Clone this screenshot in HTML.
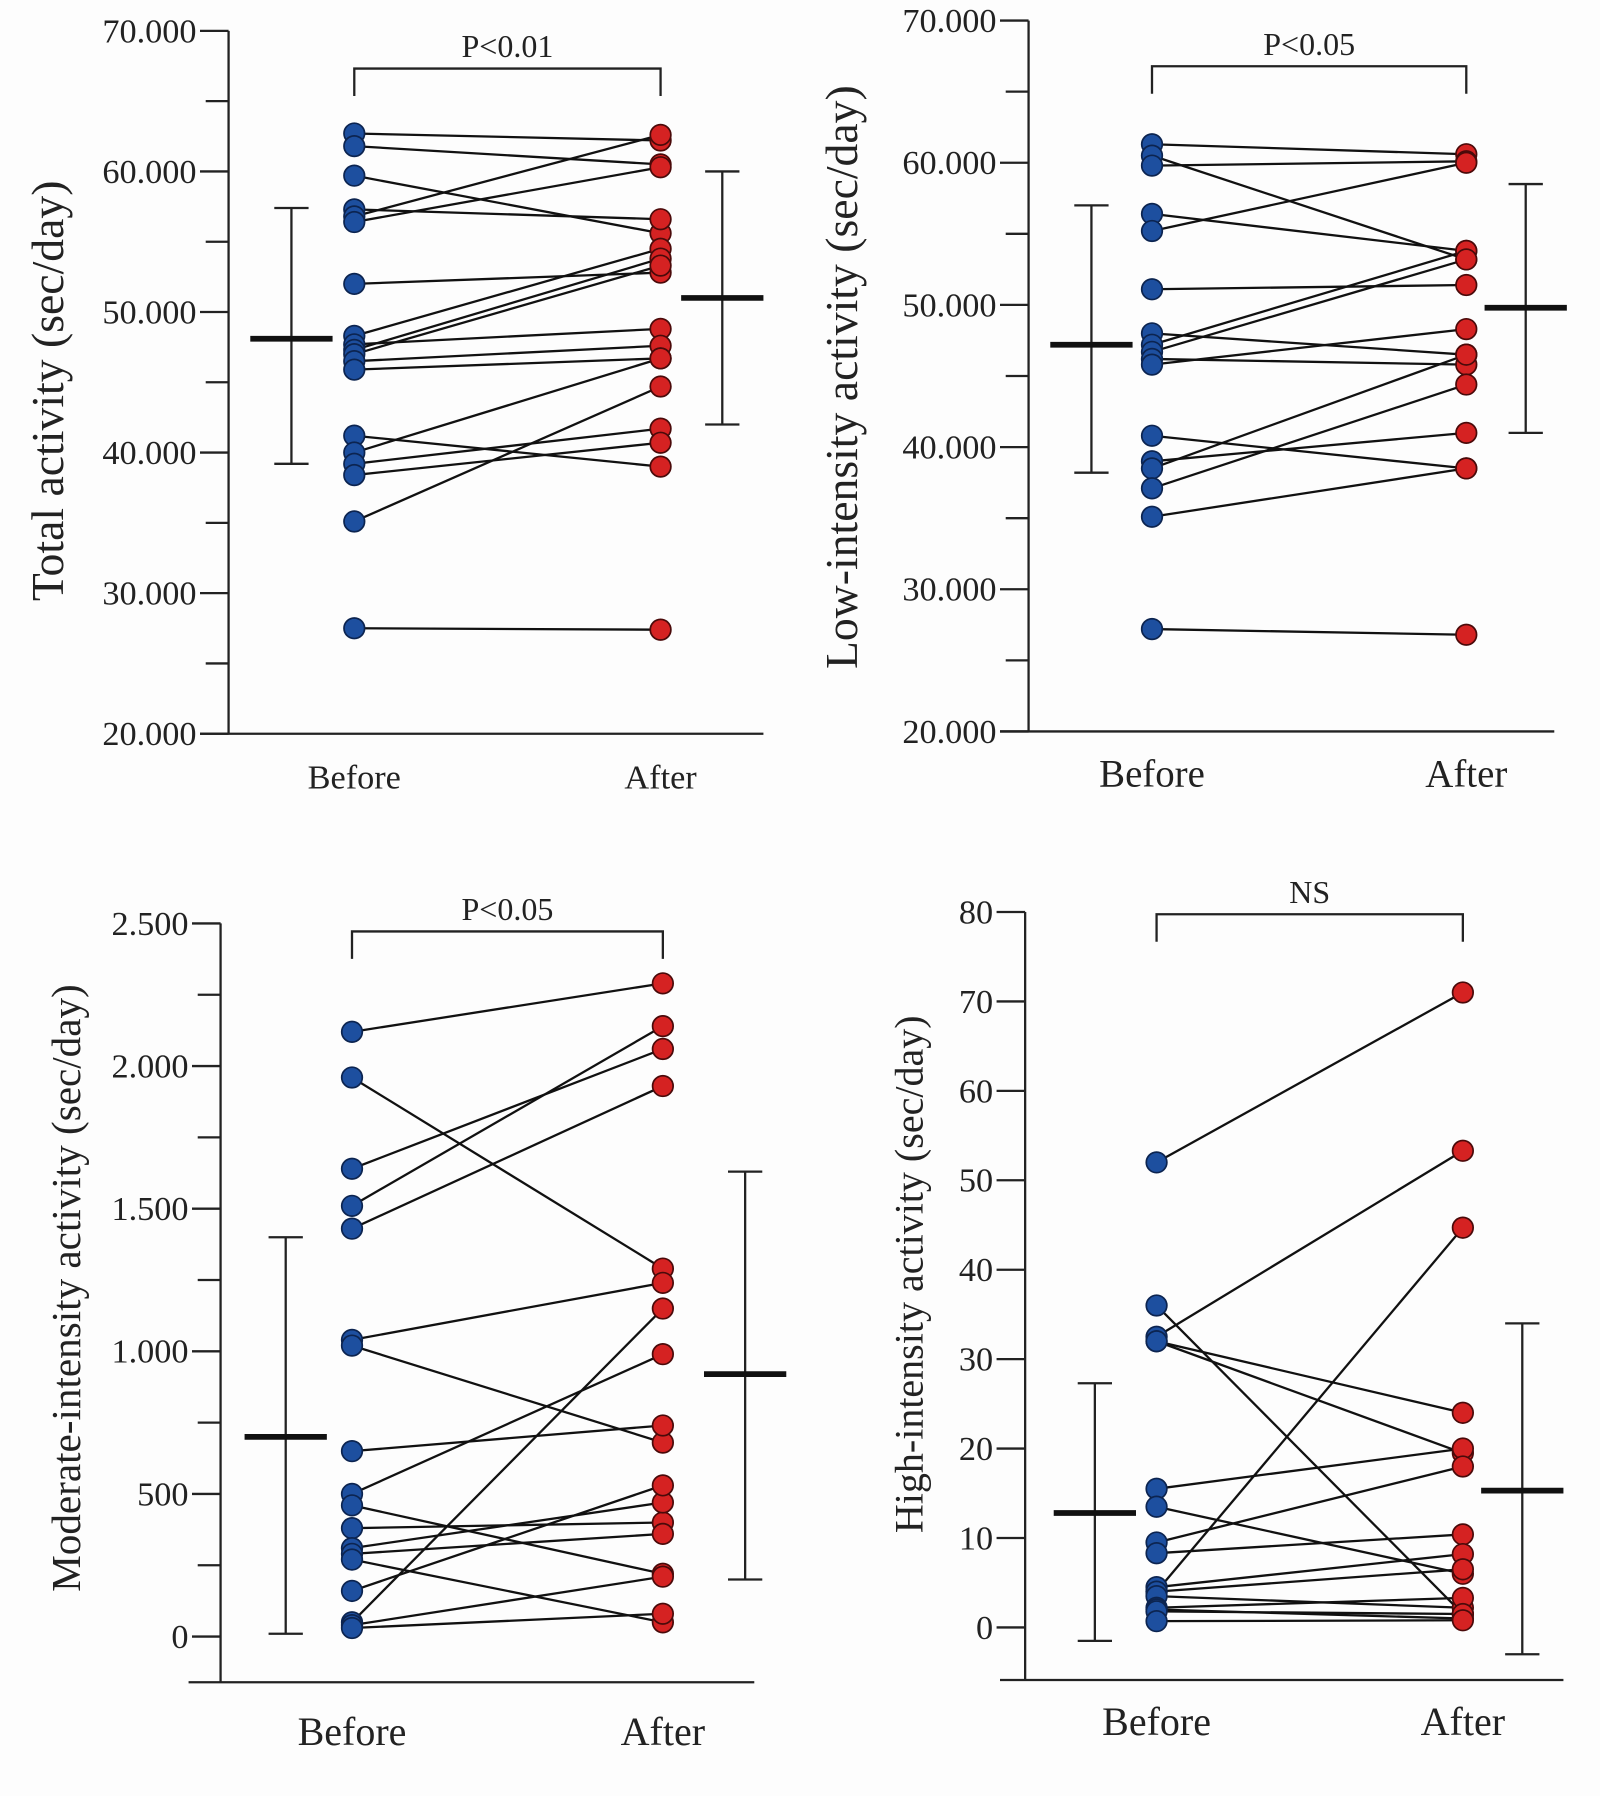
<!DOCTYPE html>
<html><head><meta charset="utf-8"><style>
html,body{margin:0;padding:0;background:#fdfdfd;}
svg{display:block;font-family:"Liberation Serif",serif;}
</style></head><body>
<svg id="fig" width="1600" height="1796" viewBox="0 0 1400 1571.5"></svg>
<script>
// Panel A: total activity
const aBefore=[62700,61800,59700,57300,56800,56400,52000,48300,47700,47300,47000,46500,45900,41200,40000,39200,38400,35100,27500];
const aAfter =[62200,60500,55600,56600,62600,60300,52800,54500,48800,53800,53300,47600,46700,39000,46700,41700,40700,44700,27400];
const aTicks=[20000,30000,40000,50000,60000,70000];
const aTickLabels=["20.000","30.000","40.000","50.000","60.000","70.000"];
const aStats=[[48100,39200,57400],[51000,42000,60000]];
// Panel B: low-intensity activity
const bBefore=[61300,60500,59800,56400,55200,51100,48000,47200,46700,46200,45800,40800,39000,38500,37100,35100,27200];
const bAfter =[60600,53200,60100,53800,60000,51400,46500,53800,53200,45800,48300,38500,41000,46500,44400,38500,26800];
const bTicks=[20000,30000,40000,50000,60000,70000];
const bTickLabels=["20.000","30.000","40.000","50.000","60.000","70.000"];
const bStats=[[47200,38200,57000],[49800,41000,58500]];
// Panel C: moderate-intensity activity
const cBefore=[2120,1960,1640,1510,1430,1040,1020,650,500,460,380,310,290,270,160,50,40,30];
const cAfter =[2290,1290,2060,2140,1930,1240,680,740,990,220,400,470,360,50,530,1150,210,80];
const cTicks=[0,500,1000,1500,2000,2500];
const cTickLabels=["0","500","1.000","1.500","2.000","2.500"];
const cStats=[[700,10,1400],[920,200,1630]];
// Panel D: high-intensity activity
const dBefore=[52,32.5,4,36,32,32,15.5,13.5,9.5,8.3,4.5,4,3.5,2.2,2,1.8,0.7];
const dAfter =[71,53.3,44.7,1.5,24,19.5,20,6,18,10.4,8.2,6.5,2.2,3.3,1,1.5,0.8];
const dTicks=[0,10,20,30,40,50,60,70,80];
const dTickLabels=["0","10","20","30","40","50","60","70","80"];
const dStats=[[12.8,-1.5,27.3],[15.3,-3,34]];

const NS="http://www.w3.org/2000/svg";
const svg=document.getElementById('fig');
function mk(tag,attrs,parent){const e=document.createElementNS(NS,tag);for(const k in attrs)e.setAttribute(k,attrs[k]);(parent||svg).appendChild(e);return e;}

function panel(cfg){
  const g=mk('g',{});
  
  
  const y=v=>cfg.y0+(v-cfg.v0)/(cfg.v1-cfg.v0)*(cfg.y1-cfg.y0);
  const ya=mk('line',{x1:cfg.ax,x2:cfg.ax,y1:y(cfg.v1),y2:cfg.baseY,stroke:'#222','stroke-width':2},g);
  
  const xa=mk('line',{x1:cfg.bx0,x2:cfg.bx1,y1:cfg.baseY,y2:cfg.baseY,stroke:'#222','stroke-width':2},g);
  
  cfg.ticks.forEach((t,i)=>{
    const ty=y(t);
    const l=mk('line',{x1:cfg.ax-25,x2:cfg.ax,y1:ty,y2:ty,stroke:'#222','stroke-width':2},g);
    
    const tx=mk('text',{x:cfg.ax-28,y:ty+10,'text-anchor':'end','font-size':cfg.tickFs,fill:'#222'},g);
    tx.textContent=cfg.labels[i];
    
    if(cfg.minor && i<cfg.ticks.length-1){
      const my=y(t+(cfg.ticks[1]-cfg.ticks[0])/2);
      const m=mk('line',{x1:cfg.ax-20,x2:cfg.ax,y1:my,y2:my,stroke:'#222','stroke-width':2},g);
      
    }
  });
  const yt=mk('text',{x:cfg.ytx,y:cfg.yty,'text-anchor':'middle','font-size':cfg.ytFs,fill:'#222',transform:`rotate(-90 ${cfg.ytx} ${cfg.yty})`},g);
  yt.textContent=cfg.ytitle;
  
  [['Before',cfg.xb],['After',cfg.xa]].forEach(([s,x])=>{
    const t=mk('text',{x:x,y:cfg.baseY+cfg.xlOff,'text-anchor':'middle','font-size':cfg.xlFs,fill:'#222'},g);
    t.textContent=s;
    
  });
  const br=mk('path',{d:`M${cfg.xb} ${cfg.brY+24}V${cfg.brY}H${cfg.xa}V${cfg.brY+24}`,fill:'none',stroke:'#222','stroke-width':2},g);
  
  const pt=mk('text',{x:(cfg.xb+cfg.xa)/2,y:cfg.brY-10,'text-anchor':'middle','font-size':cfg.pFs,fill:'#222'},g);
  pt.textContent=cfg.p;
  
  [[cfg.stats[0],cfg.mbx,'before'],[cfg.stats[1],cfg.max,'after']].forEach(([s,x,nm])=>{
    const e=mk('path',{d:`M${x} ${y(s[1])}V${y(s[2])}M${x-15} ${y(s[1])}H${x+15}M${x-15} ${y(s[2])}H${x+15}`,stroke:'#222','stroke-width':2,fill:'none'},g);
    
    const m=mk('line',{x1:x-36,x2:x+36,y1:y(s[0]),y2:y(s[0]),stroke:'#111','stroke-width':5},g);
    
  });
  cfg.before.forEach((b,i)=>{
    const l=mk('line',{x1:cfg.xb,y1:y(b),x2:cfg.xa,y2:y(cfg.after[i]),stroke:'#111','stroke-width':2},g);
    
  });
  cfg.before.forEach(b=>{
    const c=mk('circle',{cx:cfg.xb,cy:y(b),r:9,fill:'#1d4f9f',stroke:'#0c2450','stroke-width':1.5},g);
    
  });
  cfg.after.forEach(a=>{
    const c=mk('circle',{cx:cfg.xa,cy:y(a),r:9,fill:'#d52222',stroke:'#4a0a0a','stroke-width':1.5},g);
    
  });
}

panel({name:'panel-total-activity',before:aBefore,after:aAfter,ticks:aTicks,labels:aTickLabels,stats:aStats,
  v0:20000,v1:70000,y0:642,y1:27,ax:200,baseY:642,bx0:175,bx1:668,xb:310,xa:578,brY:60,p:'P<0.01',
  mbx:255,max:632,minor:true,tickFs:30,ytitle:'Total  activity (sec/day)',ytx:55,yty:342,ytFs:40,xlFs:30,xlOff:48,pFs:28});
panel({name:'panel-low-intensity',before:bBefore,after:bAfter,ticks:bTicks,labels:bTickLabels,stats:bStats,
  v0:20000,v1:70000,y0:640,y1:18,ax:900,baseY:640,bx0:875,bx1:1360,xb:1008,xa:1283,brY:58,p:'P<0.05',
  mbx:955,max:1335,minor:true,tickFs:30,ytitle:'Low-intensity activity (sec/day)',ytx:750,yty:330,ytFs:40,xlFs:34,xlOff:48,pFs:28});
panel({name:'panel-moderate-intensity',before:cBefore,after:cAfter,ticks:cTicks,labels:cTickLabels,stats:cStats,
  v0:0,v1:2500,y0:1432,y1:808,ax:193,baseY:1472,bx0:165,bx1:660,xb:308,xa:580,brY:815,p:'P<0.05',
  mbx:250,max:652,minor:true,tickFs:30,ytitle:'Moderate-intensity activity (sec/day)',ytx:70,yty:1127,ytFs:36,xlFs:35,xlOff:55,pFs:28});
panel({name:'panel-high-intensity',before:dBefore,after:dAfter,ticks:dTicks,labels:dTickLabels,stats:dStats,
  v0:0,v1:80,y0:1424,y1:798,ax:897,baseY:1470,bx0:875,bx1:1368,xb:1012,xa:1280,brY:800,p:'NS',
  mbx:958,max:1332,minor:false,tickFs:30,ytitle:'High-intensity activity (sec/day)',ytx:807,yty:1115,ytFs:35,xlFs:35,xlOff:48,pFs:28});
</script>
</body></html>
